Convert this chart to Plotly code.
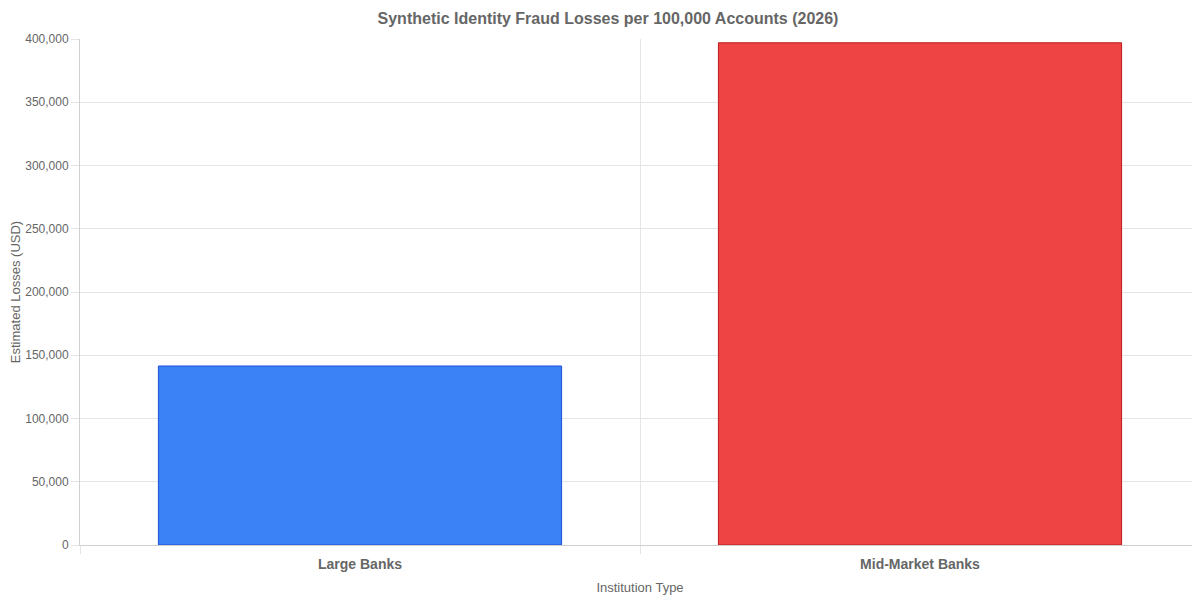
import plotly.graph_objects as go

categories = ["Large Banks", "Mid-Market Banks"]
losses = [141500, 397000]
fill_colors = ["#3b82f6", "#ef4444"]
border_colors = ["#1d4ed8", "#b91c1c"]
y_ticks = [0, 50000, 100000, 150000, 200000, 250000, 300000, 350000, 400000]

fig = go.Figure()
fig.add_trace(go.Bar(
    x=categories, y=losses,
    marker=dict(color=fill_colors, line=dict(color=border_colors, width=1)),
    hoverinfo="x+y",
))

grid = "#e5e5e5"
fig.update_layout(
    width=1200, height=600,
    margin=dict(l=72, r=8, t=31, b=63),
    paper_bgcolor="white", plot_bgcolor="white",
    font=dict(family="Liberation Sans, Arial, sans-serif", color="#666666", size=12),
    title=dict(text="<b>Synthetic Identity Fraud Losses per 100,000 Accounts (2026)</b>",
               x=0.5, xanchor="center", y=0.982, yanchor="middle",
               font=dict(size=16, color="#666666")),
    bargap=0.28,
    showlegend=False,
)
fig.update_xaxes(
    range=[-0.5, 1.5], tickson="boundaries", showgrid=True, gridcolor=grid,
    ticks="outside", ticklen=8, tickcolor=grid, automargin=False,
    showline=True, linecolor="#d0d0d0",
    tickfont=dict(size=14, color="#666666", family="Liberation Sans, Arial, sans-serif"),
    tickprefix="<b>", ticksuffix="</b>", ticklabelstandoff=6,
    title=dict(text="Institution Type", font=dict(size=13), standoff=12),
)
fig.update_yaxes(
    range=[0, 400000], tickvals=y_ticks, tickformat=",d",
    showgrid=True, gridcolor=grid, zeroline=False,
    ticks="outside", ticklen=8, tickcolor=grid, automargin=False,
    showline=True, linecolor="#d0d0d0",
    tickfont=dict(size=12),
    title=dict(text="Estimated Losses (USD)", font=dict(size=13), standoff=6),
)

fig.write_html("out.html")
